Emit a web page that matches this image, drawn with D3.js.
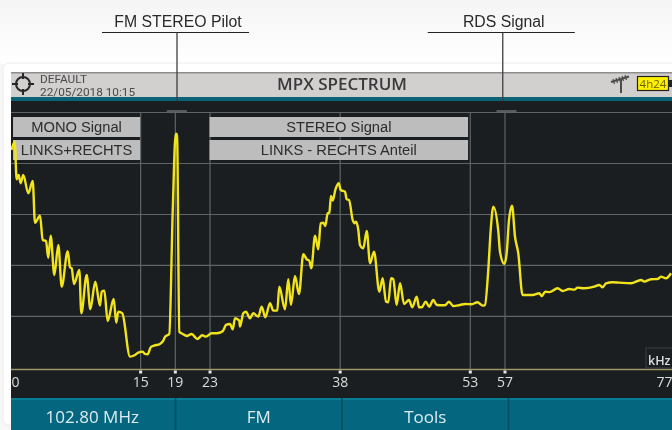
<!DOCTYPE html>
<html>
<head>
<meta charset="utf-8">
<script src="https://cdn.jsdelivr.net/npm/d3@7"></script>
<style>
  html, body { margin: 0; padding: 0; background: #fff; overflow: hidden; }
  svg { display: block; filter: blur(0.35px); }
  .ui { font-family: "Open Sans", sans-serif; }
  .note { font-family: "Liberation Sans", sans-serif; }
</style>
</head>
<body>
<svg></svg>
<script>
const width = 672;
const height = 430;

// values
const tickKhz = [0, 15, 19, 23, 38, 53, 57, 77];
const gridDb = [0, -10, -20, -30, -40];
const softKeys = ['102.80 MHz', 'FM', 'Tools', ''];
const signalBoxes = [
  ['MONO Signal', 'LINKS+RECHTS'],
  ['STEREO Signal', 'LINKS - RECHTS Anteil']
];
const boxSpans = [[0.35, 15], [23, 52.8]];
const callouts = ['FM STEREO Pilot', 'RDS Signal'];
const calloutKhz = [19.25, 56.8];

const traceKhz = [0.17, 0.54, 0.77, 1.00, 1.23, 1.53, 2.11, 2.62, 2.88, 3.46, 3.77, 4.15, 4.41, 4.69, 5.11, 5.57, 5.96, 6.65, 6.92, 7.11,
  7.38, 7.99, 8.22, 8.84, 9.26, 9.83, 10.37, 10.57, 10.87, 11.26, 11.95, 12.25, 12.48, 12.94, 13.83, 14.41, 14.79, 15.3, 15.56, 15.87,
  16.22, 16.6, 17.29, 17.67, 17.87, 18.36, 18.75, 19.1, 19.25, 19.52, 19.91, 20.37, 20.94, 21.59, 22.17, 22.59, 23.25, 23.83, 24.52, 24.9,
  25.36, 25.67, 25.94, 26.43, 26.51, 26.89, 27.2, 27.66, 28.04, 28.62, 29.01, 29.43, 29.97, 30.35, 30.81, 31.04, 31.7, 32.08, 32.39, 32.85,
  33.31, 33.81, 34.2, 34.5, 34.73, 35.16, 35.54, 35.81, 36.11, 36.34, 36.62, 36.81, 37, 37.2, 37.5, 37.89, 38.12, 38.62, 38.81, 39.08,
  39.5, 39.69, 39.88, 40.15, 40.34, 40.72, 41.12, 41.5, 41.96, 42.57, 42.96, 43.34, 43.61, 43.92, 44.18, 44.57, 44.96, 45.42, 45.99, 46.37,
  46.88, 47.15, 47.46, 47.92, 48.33, 48.79, 49.19, 50.14, 50.6, 51.1, 51.87, 52.45, 53.22, 53.87, 54.49, 54.75, 55.13, 55.41, 55.71, 56.29,
  56.48, 56.98, 57.25, 57.52, 57.87, 58.21, 58.59, 59.08, 60.25, 61.01, 61.29, 61.7, 62.17, 63.13, 63.71, 64.47, 65.05, 65.44, 66.2, 67.35,
  67.93, 68.32, 68.7, 69.47, 70.23, 71.58, 72.74, 73.11, 73.89, 74.66, 75.04, 75.62, 76.19];

const traceDb = [-7.45, -5.82, -13.2, -12.35, -13.98, -12.35, -15.94, -13.53, -21.71, -20.33, -25.1, -25.29, -28.57, -24.25, -31.96, -26.08, -34.25, -27.31, -30.45, -30.65,
  -33.73, -30.98, -39.47, -31.96, -38.69, -33.27, -37.98, -35.24, -35.04, -40.98, -36.67, -41.31, -39.16, -39.47, -47.98, -47.65, -47.2, -47, -47.45, -47.51,
  -46.14, -45.82, -45.49, -44.84, -44.06, -43.53, -19.86, -4.31, -4.31, -43.08, -43.53, -43.92, -43.53, -44.51, -43.78, -44.06, -43.39, -43.39, -43, -41.76,
  -41.57, -42.61, -40.45, -40.92, -42.1, -39.47, -39.16, -40.45, -39.47, -40.14, -38.18, -40.25, -37.51, -38.96, -38.96, -34.25, -38.69, -32.8, -37.84, -32.16,
  -35.69, -27.9, -28.88, -29.16, -30.65, -24.25, -26.92, -21.82, -21.71, -22.35, -19.86, -19.75, -16.47, -17.39, -15.29, -13.98, -15.29, -15.63, -17.12, -17.25,
  -21.18, -21.82, -21.51, -23.14, -26.08, -26.73, -23.33, -29.67, -27.39, -35.24, -32.61, -37.2, -37.31, -32.61, -32.8, -37.84, -33.59, -37.65, -36.86, -38.29,
  -36.22, -38.29, -38.29, -37.2, -38.18, -36.86, -37.84, -37.9, -37.2, -38.04, -37.84, -37.65, -37.71, -37.31, -37.98, -37.84, -30.98, -23.14, -18.57, -23.47,
  -27.39, -29.8, -27.71, -21.18, -18.37, -24.45, -27.71, -35.88, -35.88, -35.55, -36.08, -35.24, -35.33, -34.57, -35.1, -34.71, -34.84, -34.45, -34.57, -34.25,
  -33.92, -34.37, -33.59, -33.39, -33.47, -33.59, -32.94, -33.27, -32.8, -32.75, -32.29, -32.61, -31.63];

const trace = traceKhz.map((k, i) => ({ khz: k, db: traceDb[i] }));

const screenLeft = 11;
const headerTop = 72;
const plotTop = 112;
const plotBottom = 369.5;
const footerTop = 398;

const xScale = d3.scaleLinear().domain([0, 77]).range([10, 678]);
const yScale = d3.scaleLinear().domain([0, -50.5]).range([plotTop, plotBottom]);

const svg = d3.select('svg').attr('width', width).attr('height', height);
const defs = svg.append('defs');

const bg = defs.append('linearGradient').attr('id', 'pageBg').attr('x1', 0).attr('x2', 0).attr('y1', 0).attr('y2', 1);
bg.append('stop').attr('offset', 0).attr('stop-color', '#f5f5f5');
bg.append('stop').attr('offset', 1).attr('stop-color', '#ffffff');

defs.append('clipPath').attr('id', 'screenClip')
  .append('rect').attr('x', screenLeft).attr('y', 100).attr('width', width - screenLeft).attr('height', 298);

// page and card behind the instrument screen
svg.append('rect').attr('width', width).attr('height', 64).attr('fill', 'url(#pageBg)');
svg.append('rect').attr('y', 64).attr('width', width).attr('height', height - 64).attr('fill', '#f7f7f7');
svg.append('rect')
  .attr('x', 3).attr('y', 63).attr('width', width + 10).attr('height', 362).attr('rx', 6)
  .attr('fill', '#fff').attr('stroke', '#ececec');

// header bar
svg.append('rect').attr('x', screenLeft).attr('y', headerTop).attr('width', width - screenLeft).attr('height', 26).attr('fill', '#d2cfcf');
svg.append('rect').attr('x', screenLeft).attr('y', headerTop).attr('width', width - screenLeft).attr('height', 1.5).attr('fill', '#8d8d8d');
svg.append('rect').attr('x', screenLeft).attr('y', 97).attr('width', width - screenLeft).attr('height', 4).attr('fill', '#0b6376');

// plot body
svg.append('rect').attr('x', screenLeft).attr('y', 101).attr('width', width - screenLeft).attr('height', footerTop - 101).attr('fill', '#1a1e21');

// crosshair icon
const cross = svg.append('g').attr('transform', 'translate(23,84)').attr('stroke', '#262626').attr('fill', 'none');
cross.append('circle').attr('r', 7).attr('stroke-width', 2);
cross.selectAll('line').data([[0, -11, 0, -5], [0, 5, 0, 11], [-11, 0, -5, 0], [5, 0, 11, 0]]).enter().append('line')
  .attr('x1', d => d[0]).attr('y1', d => d[1]).attr('x2', d => d[2]).attr('y2', d => d[3]).attr('stroke-width', 2);

svg.append('text').attr('x', 40).attr('y', 83).attr('font-family', 'Roboto, sans-serif').attr('font-size', 11.800).attr('fill', '#4a4a4a').text('DEFAULT');
svg.append('text').attr('x', 40).attr('y', 96).attr('font-family', 'Roboto, sans-serif').attr('font-size', 11.800).attr('fill', '#4a4a4a').text('22/05/2018 10:15');
svg.append('text').attr('class', 'ui').attr('x', 342).attr('y', 90).attr('font-size', 17).attr('font-weight', 600)
  .attr('text-anchor', 'middle').attr('fill', '#3a3a3a').text('MPX SPECTRUM');

// antenna icon
const ant = svg.append('g').attr('stroke', '#4c4c4c').attr('fill', 'none');
ant.append('path').attr('d', 'M621 93V79').attr('stroke-width', 2);
ant.append('path').attr('d', 'M611 82L629 76.500').attr('stroke-width', 2);
ant.append('path').attr('d', 'M613 79L614.500 84M616 78L617.500 83M619 77L620.500 82M622 76L623.500 81M625 75L626.500 80').attr('stroke-width', 1.2);

// battery
svg.append('rect').attr('x', 637.500).attr('y', 76.500).attr('width', 31).attr('height', 14).attr('fill', '#fff000').attr('stroke', '#222').attr('stroke-width', 1.2);
svg.append('rect').attr('x', 669).attr('y', 80).attr('width', 3).attr('height', 7).attr('fill', '#222');
svg.append('text').attr('class', 'ui').attr('x', 653).attr('y', 88).attr('font-size', 11.500).attr('text-anchor', 'middle').attr('fill', '#6b6300').text('4h24');

// grid
const grid = svg.append('g').attr('clip-path', 'url(#screenClip)');

grid.append('g')
  .attr('transform', 'translate(' + screenLeft + ',0)')
  .call(d3.axisRight(yScale).tickValues(gridDb).tickSize(width - screenLeft).tickFormat(''))
  .call(g => g.select('.domain').remove())
  .call(g => g.selectAll('line').attr('stroke', '#5f6466').attr('stroke-width', 1.2));

grid.append('g')
  .attr('transform', 'translate(0,' + plotBottom + ')')
  .call(d3.axisTop(xScale).tickValues(tickKhz.slice(1, -1)).tickSize(plotBottom - plotTop).tickFormat(''))
  .call(g => g.select('.domain').remove())
  .call(g => g.selectAll('line').attr('stroke', '#5f6466').attr('stroke-width', 1.2));

// brighter caps on the top grid line at the two callouts
grid.selectAll('.cap')
  .data([19, 57])
  .enter()
  .append('line')
  .attr('x1', d => xScale(d) - 8)
  .attr('x2', d => xScale(d) + 12)
  .attr('y1', yScale(0) - 1)
  .attr('y2', yScale(0) - 1)
  .attr('stroke', '#6c7072')
  .attr('stroke-width', 1.5);

// signal label boxes
boxSpans.forEach((span, i) => {
  const x0 = xScale(span[0]);
  const w = xScale(span[1]) - x0;
  signalBoxes[i].forEach((label, j) => {
    const top = 117 + j * 23;
    svg.append('rect').attr('x', x0).attr('y', top).attr('width', w).attr('height', 20).attr('fill', '#bdbdbd');
    svg.append('text').attr('class', 'note').attr('x', x0 + w / 2).attr('y', top + 15).attr('font-size', 14.700)
      .attr('text-anchor', 'middle').attr('fill', '#2c2c2c').text(label);
  });
});

// baseline and ticks
svg.append('line').attr('x1', screenLeft).attr('x2', width).attr('y1', plotBottom).attr('y2', plotBottom)
  .attr('stroke', '#9c9668').attr('stroke-width', 1.4);

const xAxis = svg.append('g')
  .attr('transform', 'translate(0,' + (plotBottom + 1) + ')')
  .call(d3.axisBottom(xScale).tickValues(tickKhz).tickSize(3).tickPadding(4));
xAxis.select('.domain').remove();
xAxis.selectAll('line').attr('stroke', '#e6e6e6').attr('stroke-width', 3);
xAxis.selectAll('text').attr('font-family', '"Open Sans", sans-serif').attr('font-size', 14).attr('fill', '#dcdcdc');
xAxis.selectAll('.tick').filter(d => d === 0).select('line').remove();
xAxis.selectAll('.tick').filter(d => d === 0).select('text').attr('text-anchor', 'start').attr('dx', 1);
xAxis.selectAll('.tick').filter(d => d === 77).select('line').remove();
xAxis.selectAll('.tick').filter(d => d === 77).select('text').attr('dx', -14);

svg.append('rect').attr('x', 646).attr('y', 348).attr('width', 30).attr('height', 20).attr('fill', '#1a1e21').attr('stroke', '#3c4043');
svg.append('text').attr('class', 'ui').attr('x', 648).attr('y', 365).attr('font-size', 12.500).attr('font-weight', 600).attr('fill', '#dcdcdc').text('kHz');

// spectrum trace
const line = d3.line().x(d => xScale(d.khz)).y(d => yScale(d.db)).curve(d3.curveMonotoneX);
svg.append('path')
  .datum(trace)
  .attr('clip-path', 'url(#screenClip)')
  .attr('d', line)
  .attr('fill', 'none')
  .attr('stroke', '#f2e41c')
  .attr('stroke-width', 2.4)
  .attr('stroke-linejoin', 'round');

// soft keys
svg.append('rect').attr('x', screenLeft).attr('y', footerTop).attr('width', width - screenLeft).attr('height', height - footerTop).attr('fill', '#05667f');
svg.append('rect').attr('x', screenLeft).attr('y', footerTop).attr('width', width - screenLeft).attr('height', 2).attr('fill', '#0a7d96');
const keyWidth = 166.500;
softKeys.forEach((label, i) => {
  const x0 = 9 + i * keyWidth;
  if (i > 0) {
    svg.append('line').attr('x1', x0).attr('x2', x0).attr('y1', footerTop).attr('y2', height).attr('stroke', '#034c60').attr('stroke-width', 1.5);
  }
  svg.append('text').attr('class', 'ui').attr('x', x0 + keyWidth / 2).attr('y', 422.500).attr('font-size', 17)
    .attr('text-anchor', 'middle').attr('fill', '#dcecf0').text(label);
});

// callouts above the screen
const rulerHalf = 73.500;
callouts.forEach((label, i) => {
  const cx = xScale(calloutKhz[i]);
  svg.append('text').attr('class', 'note').attr('x', cx + 1).attr('y', 26.500).attr('font-size', 15.800)
    .attr('text-anchor', 'middle').attr('fill', '#2a2a2a').text(label);
  svg.append('line').attr('x1', cx - 1.5 - rulerHalf).attr('x2', cx - 1.5 + rulerHalf).attr('y1', 32.500).attr('y2', 32.500)
    .attr('stroke', '#222').attr('stroke-width', 1.2);
  svg.append('line').attr('x1', cx).attr('x2', cx).attr('y1', 32.500).attr('y2', 101)
    .attr('stroke', '#3c3f42').attr('stroke-width', 1.3);
});
</script>
</body>
</html>
